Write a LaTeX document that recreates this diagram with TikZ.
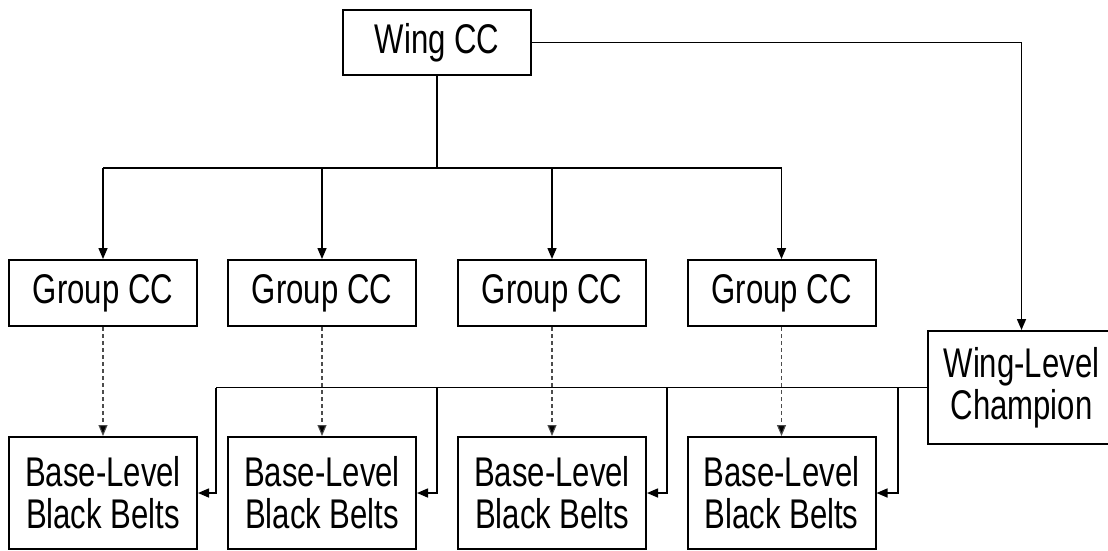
\documentclass[tikz,border=0pt]{standalone}
\usepackage{fontspec}
\setmainfont{Liberation Sans}
\newfontfamily\lab[FakeStretch=0.75]{Liberation Sans}
\usetikzlibrary{arrows.meta}
\begin{document}
\begin{tikzpicture}[x=1pt,y=-1pt,
  box/.style={draw, line width=2pt, inner sep=0pt, align=center,
    minimum width=188pt, font=\lab\fontsize{41.5}{42}\selectfont},
  onebox/.style={box, minimum height=65pt},
  twobox/.style={box, minimum height=112pt},
  conn/.style={line width=1.5pt},
  arr/.style={conn, -{Triangle[width=9pt,length=11pt]}},
  dasharr/.style={line width=1.1pt, draw=black!70, dash pattern=on 4pt off 3pt,
    -{Triangle[width=9pt,length=11pt,fill=black]}}]
\useasboundingbox (0,0) rectangle (1108,550);
\node[onebox] (wing) at (437,42.5) {Wing CC};
\node[onebox, minimum height=66pt] (g1) at (103,293) {Group CC};
\node[onebox, minimum height=66pt] (g2) at (322,293) {Group CC};
\node[onebox, minimum height=66pt] (g3) at (552,293) {Group CC};
\node[onebox, minimum height=66pt] (g4) at (781.5,293) {Group CC};
\node[twobox] (b1) at (103,493) {Base-Level\\Black Belts};
\node[twobox] (b2) at (322,493) {Base-Level\\Black Belts};
\node[twobox] (b3) at (552,493) {Base-Level\\Black Belts};
\node[twobox] (b4) at (781.5,493) {Base-Level\\Black Belts};
\node[twobox, minimum width=187pt, minimum height=113pt] (champ) at (1021.5,387.5) {Wing-Level\\Champion};
\coordinate (bus) at (437,168);
\draw[conn] (wing.south) -- (bus);
\draw[conn] (g1.north |- bus) -- (g4.north |- bus);
\foreach \i in {1,...,4} {
  \draw[arr] (g\i.north |- bus) -- (g\i.north);
  \draw[dasharr] (g\i.south) -- (b\i.north);
}
\draw[arr] (wing.east) -| (champ.north);
\coordinate (d1) at (216,387.5);
\coordinate (d2) at (437,387.5);
\coordinate (d3) at (667,387.5);
\coordinate (d4) at (898,387.5);
\draw[conn] (champ.west) -- (d1);
\foreach \i in {1,...,4} {
  \draw[arr] (d\i) |- (b\i.east);
}
\end{tikzpicture}
\end{document}
